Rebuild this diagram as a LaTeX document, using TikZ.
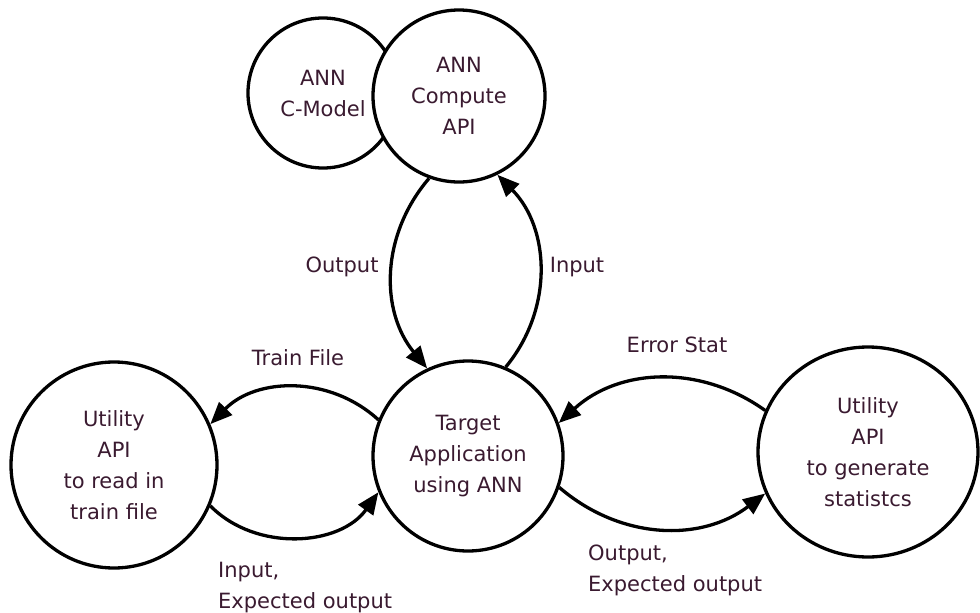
\documentclass[tikz,border=0pt]{standalone}
\usepackage{fontspec}
\setmainfont{DejaVu Sans}
\usetikzlibrary{arrows.meta,shapes.geometric}
\definecolor{txt}{HTML}{3A1A30}
\begin{document}
\begin{tikzpicture}[x=1pt,y=-1pt,
  every node/.style={font=\fontsize{21}{31}\selectfont, text=txt},
  bubble/.style={circle, draw=black, line width=3.3pt, inner sep=0pt, align=center},
  flow/.style={draw=black, line width=3.3pt, -{Triangle[length=22pt,width=18pt]}},
  lbl/.style={inner sep=0pt, align=center},
  lbll/.style={inner sep=0pt, align=left, anchor=north west}]
\useasboundingbox (0,0) rectangle (980,613);
\node[bubble, minimum size=150pt] (cm) at (323,93) {ANN\\C-Model};
\node[bubble, fill=white, minimum size=172pt] (ca) at (459,96) {ANN\\Compute\\API};
\node[bubble, minimum size=190pt] (ta) at (468,456) {Target\\Application\\using ANN};
\node[bubble, minimum size=206pt] (lu) at (114,465) {Utility\\API\\to read in\\train file};
\node[bubble, ellipse, minimum width=220pt, minimum height=210pt] (ru) at (868,452) {Utility\\API\\to generate\\statistcs};

\draw[flow] (ca.-110) to[bend right=40] (ta.115);
\draw[flow] (ta.67) to[bend right=42] (ca.-64);
\draw[flow] (ta.158) to[bend right=44] (lu.23);
\draw[flow] (lu.-23) to[bend right=50] (ta.-158);
\draw[flow] (ru.158) to[bend right=39] (ta.20);
\draw[flow] (ta.-19) to[bend right=39] (ru.-158);

\node[lbl] (lo) at (342,267) {Output};
\node[lbl] (li) at (577,267) {Input};
\node[lbl] (ltf) at (298,358) {Train File};
\node[lbl] (les) at (677,345) {Error Stat};
\node[lbll] (lie) at (218,562) {Input,\\Expected output};
\node[lbll] (loe) at (588,545) {Output,\\Expected output};
\end{tikzpicture}
\end{document}
